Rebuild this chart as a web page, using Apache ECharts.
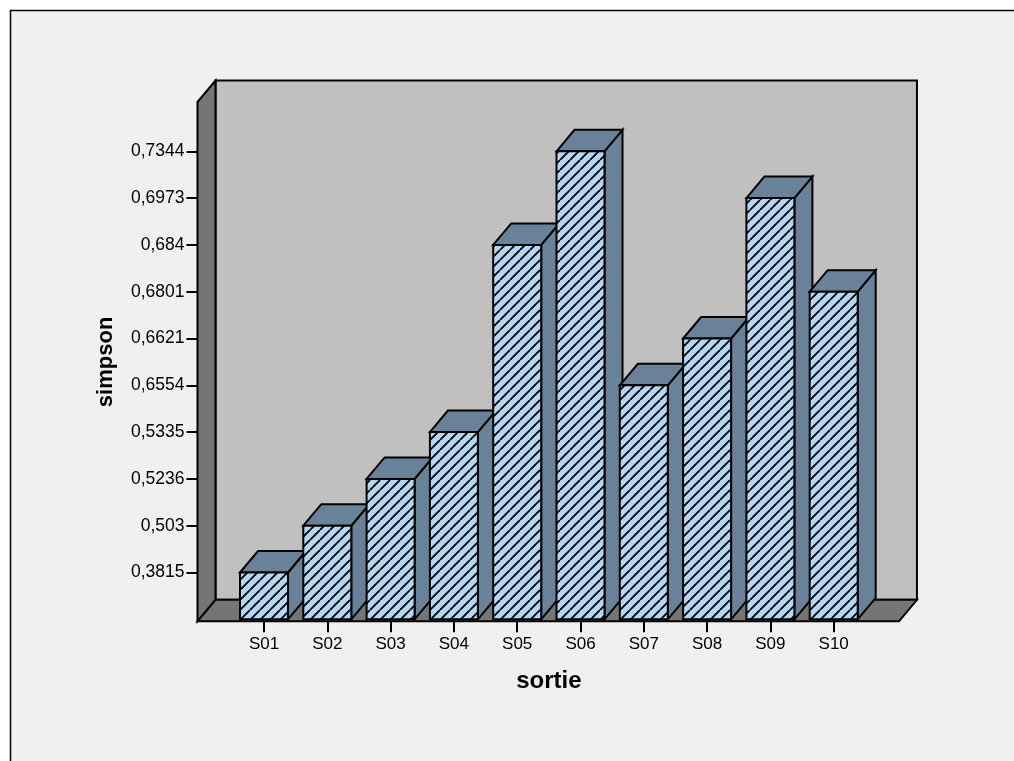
<!DOCTYPE html>
<html>
<head>
<meta charset="utf-8">
<style>html,body{margin:0;padding:0;background:#fff}#chart{width:1014px;height:761px}</style>
<script src="https://cdn.jsdelivr.net/npm/echarts@6/dist/echarts.min.js"></script>
</head>
<body>
<div id="chart"></div>
<script>
// Sorties in plot order
const sorties = ['S01','S02','S03','S04','S05','S06','S07','S08','S09','S10'];
// Simpson index per sortie, as printed on the ordinal axis
const simpson = ['0,3815','0,503','0,5236','0,5335','0,684','0,7344','0,6554','0,6621','0,6973','0,6801'];
// Ordered ticks of the vertical axis
const simpsonTicks = ['0,3815','0,503','0,5236','0,5335','0,6554','0,6621','0,6801','0,684','0,6973','0,7344'];

const FONT = '"Liberation Sans", Arial, sans-serif';
const DEPTH_X = 18, DEPTH_Y = 21.5;    // oblique offset of the 3D box
const BAR_W = 48;
const SLOT_FLOOR = '\u200b', SLOT_TOP = '\u200c';  // unlabelled floor and headroom slots
const yCategories = [SLOT_FLOOR, ...simpsonTicks, SLOT_TOP];

// Diagonal hatch tile for the bar faces
function hatchTile() {
  const p = 10, c = document.createElement('canvas');
  c.width = c.height = p;
  const g = c.getContext('2d');
  g.fillStyle = '#b5d6f3';
  g.fillRect(0, 0, p, p);
  g.strokeStyle = '#000';
  g.lineWidth = 1.8;
  g.beginPath();
  for (let k = -p; k <= 2 * p; k += p) { g.moveTo(k, p); g.lineTo(k + p, 0); }
  g.stroke();
  return c;
}
const hatch = { image: hatchTile(), repeat: 'repeat' };

const poly = (points, fill, lw) => ({
  type: 'polygon',
  shape: { points },
  style: { fill, stroke: '#000', lineWidth: lw === undefined ? 2 : lw, lineJoin: 'miter' }
});

// Walls and floor of the chart box, placed around the grid
function renderBox(params, api) {
  const c = params.coordSys;
  const floorY = c.y + c.height + 2, topY = c.y - 2.5;
  const l = c.x - 34.85, r = c.x + c.width + 33.6;
  const dx = DEPTH_X, dy = DEPTH_Y;
  return {
    type: 'group',
    children: [
      poly([[l + dx, topY - dy], [r + dx, topY - dy], [r + dx, floorY - dy], [l + dx, floorY - dy]], '#c0c0c0'),
      poly([[l, topY], [l + dx, topY - dy], [l + dx, floorY - dy], [l, floorY]], '#757575'),
      poly([[l, floorY], [l + dx, floorY - dy], [r + dx, floorY - dy], [r, floorY]], '#757575')
    ]
  };
}

// One oblique box per sortie: side, top, then the hatched front
function renderBar(params, api) {
  const top = api.coord([api.value(0), api.value(1)]);
  const base = api.coord([api.value(0), SLOT_FLOOR]);
  const x0 = top[0] - BAR_W / 2, x1 = top[0] + BAR_W / 2;
  const yt = top[1], yb = base[1];
  const dx = DEPTH_X, dy = DEPTH_Y;
  return {
    type: 'group',
    children: [
      poly([[x1, yt], [x1 + dx, yt - dy], [x1 + dx, yb - dy], [x1, yb]], '#6a8299'),
      poly([[x0, yt], [x0 + dx, yt - dy], [x1 + dx, yt - dy], [x1, yt]], '#6a8299'),
      poly([[x0, yt], [x1, yt], [x1, yb], [x0, yb]], hatch)
    ]
  };
}

const chart = echarts.init(document.getElementById('chart'), null, { renderer: 'canvas' });
chart.setOption({
  animation: false,
  backgroundColor: '#fff',
  graphic: [{
    type: 'rect', silent: true, z: -10,
    shape: { x: 10.5, y: 10.5, width: 1100, height: 900 },
    style: { fill: '#f0f0f0', stroke: '#000', lineWidth: 1.5 }
  }],
  grid: { left: 232.35, width: 633, top: 104.5, height: 514.8 },
  xAxis: {
    type: 'category',
    data: sorties,
    name: 'sortie',
    nameLocation: 'middle',
    nameGap: 60,
    nameTextStyle: { fontFamily: FONT, fontWeight: 'bold', fontSize: 24, color: '#000', verticalAlign: 'middle' },
    axisLine: { show: false },
    offset: 2,
    axisTick: { show: true, alignWithLabel: true, length: 11, lineStyle: { color: '#000', width: 2 } },
    axisLabel: { fontFamily: FONT, fontSize: 17, color: '#000', margin: 15 },
    splitLine: { show: false }
  },
  yAxis: {
    type: 'category',
    boundaryGap: false,
    data: yCategories,
    offset: 34.85,
    name: 'simpson',
    nameLocation: 'middle',
    nameGap: 92,
    nameMoveOverlap: false,
    nameRotate: 90,
    nameTextStyle: { fontFamily: FONT, fontWeight: 'bold', fontSize: 22, color: '#000', verticalAlign: 'middle' },
    axisLine: { show: false },
    axisTick: {
      show: true, length: 11,
      interval: (i, v) => v !== SLOT_FLOOR && v !== SLOT_TOP,
      lineStyle: { color: '#000', width: 2 }
    },
    axisLabel: {
      interval: 0, fontFamily: FONT, fontSize: 17.5, color: '#000', margin: 13,
      padding: [2, 0, 0, 0],
      formatter: v => (v === SLOT_FLOOR || v === SLOT_TOP) ? '' : v
    },
    splitLine: { show: false }
  },
  series: [
    {
      type: 'custom', name: 'box', silent: true, z: 1, clip: false,
      renderItem: renderBox,
      encode: { x: 0, y: 1 },
      data: [[sorties[0], simpsonTicks[0]]]
    },
    {
      type: 'custom', name: 'simpson', silent: true, z: 2, clip: false,
      renderItem: renderBar,
      encode: { x: 0, y: 1 },
      data: sorties.map((s, i) => [s, simpson[i]])
    }
  ]
});
</script>
</body>
</html>
